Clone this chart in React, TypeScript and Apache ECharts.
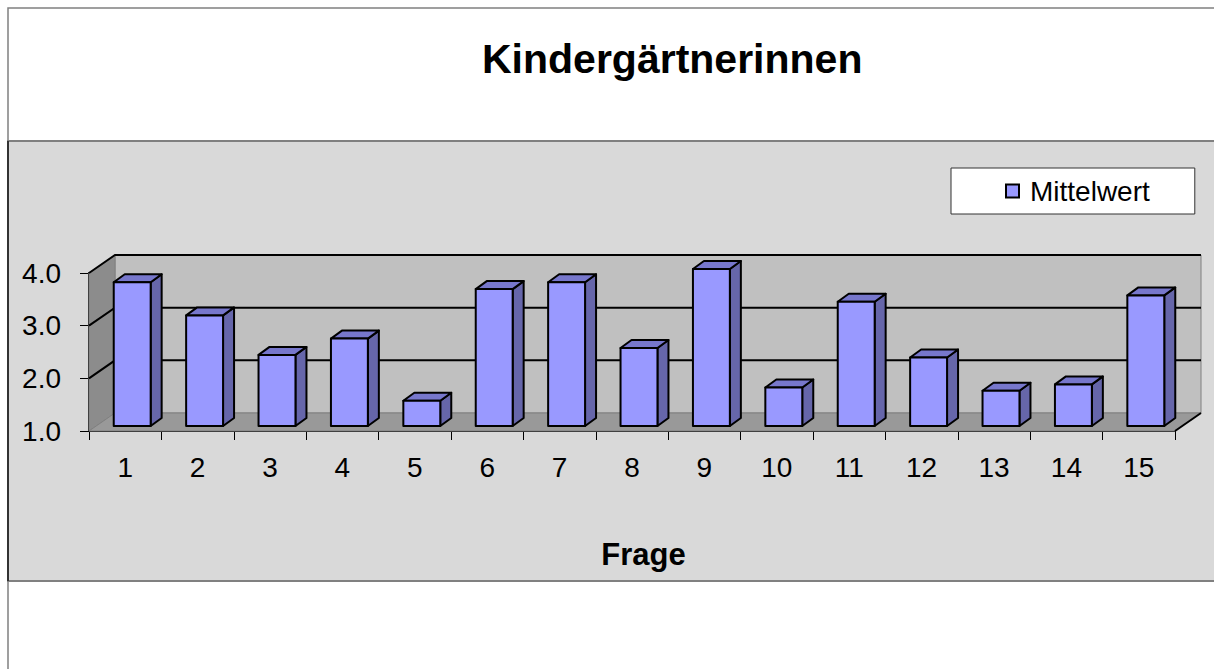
import React, { useEffect, useRef } from "react";
import * as echarts from "echarts";

const categories = ["1", "2", "3", "4", "5", "6", "7", "8", "9", "10", "11", "12", "13", "14", "15"];
const mittelwert = [3.73, 3.1, 2.35, 2.66, 1.48, 3.6, 3.73, 2.48, 3.98, 1.73, 3.36, 2.3, 1.67, 1.79, 3.48];
const yTicks = [1, 2, 3, 4];
const titleText = "Kindergärtnerinnen";
const seriesName = "Mittelwert";
const xAxisName = "Frage";

const FONT = 'Arial, "Liberation Sans", sans-serif';
const WALL_DX = 26;
const WALL_DY = -18;
const FRONT_DX = 7;
const FRONT_DY = -5;
const BAR_DX = 11;
const BAR_DY = -8;

export default function App() {
  const ref = useRef<HTMLDivElement>(null);
  useEffect(() => {
    if (!ref.current) return;
    const chart = echarts.init(ref.current, null, { renderer: "svg" });
    const option: any = {
      animation: false,
      backgroundColor: "#ffffff",
      title: {
        text: titleText,
        left: 482,
        top: 38,
        padding: 0,
        textStyle: { fontFamily: FONT, fontSize: 41, fontWeight: "bold", color: "#000" },
      },
      legend: {
        data: [{ name: seriesName, icon: "rect" }],
        left: 951,
        top: 168,
        padding: [9, 45, 9, 54],
        backgroundColor: "#ffffff",
        borderColor: "#333333",
        borderWidth: 1,
        borderRadius: 0,
        itemWidth: 13,
        itemHeight: 13,
        itemStyle: { borderColor: "#000", borderWidth: 2 },
        textStyle: { fontFamily: FONT, fontSize: 28, color: "#000", padding: [0, 0, 0, 6] },
        selectedMode: false,
      },
      graphic: [
        {
          type: "rect",
          z: -10,
          shape: { x: 8, y: 8, width: 1300, height: 700 },
          style: { fill: "#ffffff", stroke: "#808080", lineWidth: 1.5 },
          silent: true,
        },
        {
          type: "rect",
          z: -9,
          shape: { x: 8, y: 141, width: 1300, height: 440 },
          style: { fill: "#d9d9d9", stroke: "#808080", lineWidth: 2 },
          silent: true,
        },
        {
          type: "line",
          z: -8,
          shape: { x1: 8, y1: 141, x2: 8, y2: 581 },
          style: { stroke: "#333333", lineWidth: 2 },
          silent: true,
        },
      ],
      grid: { left: 89, right: 39, top: 273, bottom: 238 },
      xAxis: {
        type: "category",
        data: categories,
        boundaryGap: true,
        name: xAxisName,
        nameLocation: "middle",
        nameGap: 108,
        nameTextStyle: {
          fontFamily: FONT,
          fontSize: 31,
          fontWeight: "bold",
          color: "#000",
          padding: [0, 0, 0, 23],
        },
        axisLine: { lineStyle: { color: "#000", width: 2 } },
        axisTick: { show: true, length: 9, lineStyle: { color: "#000", width: 1 } },
        axisLabel: { fontFamily: FONT, fontSize: 28, color: "#000", margin: 22 },
        splitLine: { show: false },
      },
      yAxis: {
        type: "value",
        min: 1,
        max: 4,
        interval: 1,
        axisLine: { show: true, lineStyle: { color: "#000", width: 2 } },
        axisTick: { show: true, length: 9, lineStyle: { color: "#000", width: 1 } },
        axisLabel: {
          fontFamily: FONT,
          fontSize: 28,
          color: "#000",
          margin: 28,
          formatter: (v: number) => v.toFixed(1),
        },
        splitLine: { show: false },
      },
      series: [
        {
          type: "custom",
          name: "walls",
          silent: true,
          z: 1,
          data: [[0, 1]],
          renderItem: (params: any, api: any) => {
            const cs = params.coordSys;
            const x = cs.x, y = cs.y, w = cs.width, h = cs.height;
            const children: any[] = [];
            children.push({
              type: "polygon",
              shape: { points: [[x + WALL_DX, y + WALL_DY], [x + w + WALL_DX, y + WALL_DY], [x + w + WALL_DX, y + h + WALL_DY], [x + WALL_DX, y + h + WALL_DY]] },
              style: { fill: "#c0c0c0", stroke: "#808080", lineWidth: 1 },
            });
            children.push({
              type: "polygon",
              shape: { points: [[x, y], [x + WALL_DX, y + WALL_DY], [x + WALL_DX, y + h + WALL_DY], [x, y + h]] },
              style: { fill: "#8c8c8c", stroke: "#808080", lineWidth: 1 },
            });
            children.push({
              type: "polygon",
              shape: { points: [[x, y + h], [x + WALL_DX, y + h + WALL_DY], [x + w + WALL_DX, y + h + WALL_DY], [x + w, y + h]] },
              style: { fill: "#999999", stroke: "#808080", lineWidth: 1 },
            });
            yTicks.forEach((t) => {
              if (t === yTicks[0]) return;
              const p = api.coord([0, t]);
              children.push({
                type: "polyline",
                shape: { points: [[x, p[1]], [x + WALL_DX, p[1] + WALL_DY], [x + w + WALL_DX, p[1] + WALL_DY]] },
                style: { stroke: "#000", lineWidth: 2, fill: "none" },
              });
            });
            children.push({
              type: "line",
              shape: { x1: x + w, y1: y + h, x2: x + w + WALL_DX, y2: y + h + WALL_DY },
              style: { stroke: "#000", lineWidth: 2 },
            });
            return { type: "group", children };
          },
        },
        {
          type: "custom",
          name: seriesName,
          z: 3,
          itemStyle: { color: "#9999ff" },
          data: mittelwert.map((v, i) => [i, v]),
          renderItem: (params: any, api: any) => {
            const idx = api.value(0);
            const v = api.value(1);
            const base = api.coord([idx, 1]);
            const top = api.coord([idx, v]);
            const band = api.size([1, 0])[0];
            const bw = band * 0.51;
            const l = base[0] - bw / 2 + FRONT_DX;
            const r = l + bw;
            const yb = base[1] + FRONT_DY;
            const yt = top[1] + FRONT_DY;
            const stroke = { stroke: "#000", lineWidth: 2, lineJoin: "round" };
            return {
              type: "group",
              children: [
                {
                  type: "polygon",
                  shape: { points: [[r, yb], [r + BAR_DX, yb + BAR_DY], [r + BAR_DX, yt + BAR_DY], [r, yt]] },
                  style: { fill: "#6666aa", ...stroke },
                },
                {
                  type: "polygon",
                  shape: { points: [[l, yt], [l + BAR_DX, yt + BAR_DY], [r + BAR_DX, yt + BAR_DY], [r, yt]] },
                  style: { fill: "#7777cc", ...stroke },
                },
                {
                  type: "polygon",
                  shape: { points: [[l, yb], [r, yb], [r, yt], [l, yt]] },
                  style: { fill: "#9999ff", ...stroke },
                },
              ],
            };
          },
        },
      ],
    };
    chart.setOption(option);
    return () => chart.dispose();
  }, []);
  return (
    <div
      ref={ref}
      style={{ position: "absolute", left: 0, top: 0, width: 1214, height: 669 }}
    />
  );
}
